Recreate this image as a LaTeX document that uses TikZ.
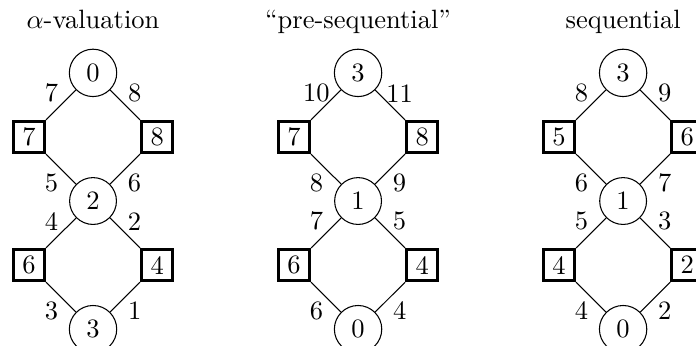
\documentclass[tikz,border=0pt]{standalone}
\begin{document}
\begin{tikzpicture}[x=1pt,y=1pt,
  cnode/.style={circle,draw,line width=0.4pt},
  snode/.style={rectangle,draw,line width=1.2pt,minimum size=11.7pt,inner sep=2pt},
  edge/.style={line width=0.4pt},
  ul/.style={midway,xshift=-3.6pt,yshift=4.4pt},
  ur/.style={midway,xshift=3.6pt,yshift=4.4pt},
  ll/.style={midway,xshift=-3.6pt,yshift=-5.1pt},
  lr/.style={midway,xshift=3.6pt,yshift=-5.1pt},
  ttl/.style={anchor=base}]
\useasboundingbox (0,0) rectangle (262.6,-130.2);
% ---------- panel 1
\node[ttl] (a-title) at (35.1,-10.6) {$\alpha$-valuation};
\node[cnode] (a-t) at (35.1,-27.5) {0};
\node[snode] (a-l) at (10.9,-51.7) {7};
\node[snode] (a-r) at (59.3,-51.7) {8};
\node[cnode] (a-m) at (35.1,-75.85) {2};
\node[snode] (a-bl) at (10.9,-100) {6};
\node[snode] (a-br) at (59.3,-100) {4};
\node[cnode] (a-b) at (35.1,-124.2) {3};
\draw[edge] (a-t) -- node[ul]{7} (a-l);
\draw[edge] (a-t) -- node[ur]{8} (a-r);
\draw[edge] (a-l) -- node[ll]{5} (a-m);
\draw[edge] (a-r) -- node[lr]{6} (a-m);
\draw[edge] (a-m) -- node[ul]{4} (a-bl);
\draw[edge] (a-m) -- node[ur]{2} (a-br);
\draw[edge] (a-bl) -- node[ll]{3} (a-b);
\draw[edge] (a-br) -- node[lr]{1} (a-b);
% ---------- panel 2
\node[ttl] (b-title) at (135.1,-10.6) {``pre-sequential''};
\node[cnode] (b-t) at (135.1,-27.5) {3};
\node[snode] (b-l) at (110.9,-51.7) {7};
\node[snode] (b-r) at (159.3,-51.7) {8};
\node[cnode] (b-m) at (135.1,-75.85) {1};
\node[snode] (b-bl) at (110.9,-100) {6};
\node[snode] (b-br) at (159.3,-100) {4};
\node[cnode] (b-b) at (135.1,-124.2) {0};
\draw[edge] (b-t) -- node[ul]{10} (b-l);
\draw[edge] (b-t) -- node[ur]{11} (b-r);
\draw[edge] (b-l) -- node[ll]{8} (b-m);
\draw[edge] (b-r) -- node[lr]{9} (b-m);
\draw[edge] (b-m) -- node[ul]{7} (b-bl);
\draw[edge] (b-m) -- node[ur]{5} (b-br);
\draw[edge] (b-bl) -- node[ll]{6} (b-b);
\draw[edge] (b-br) -- node[lr]{4} (b-b);
% ---------- panel 3
\node[ttl] (c-title) at (235.1,-10.6) {sequential};
\node[cnode] (c-t) at (235.1,-27.5) {3};
\node[snode] (c-l) at (210.9,-51.7) {5};
\node[snode] (c-r) at (259.3,-51.7) {6};
\node[cnode] (c-m) at (235.1,-75.85) {1};
\node[snode] (c-bl) at (210.9,-100) {4};
\node[snode] (c-br) at (259.3,-100) {2};
\node[cnode] (c-b) at (235.1,-124.2) {0};
\draw[edge] (c-t) -- node[ul]{8} (c-l);
\draw[edge] (c-t) -- node[ur]{9} (c-r);
\draw[edge] (c-l) -- node[ll]{6} (c-m);
\draw[edge] (c-r) -- node[lr]{7} (c-m);
\draw[edge] (c-m) -- node[ul]{5} (c-bl);
\draw[edge] (c-m) -- node[ur]{3} (c-br);
\draw[edge] (c-bl) -- node[ll]{4} (c-b);
\draw[edge] (c-br) -- node[lr]{2} (c-b);
\end{tikzpicture}
\end{document}
